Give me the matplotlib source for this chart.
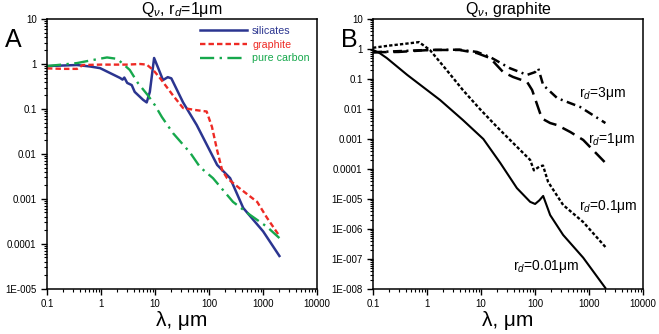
import numpy as np
import matplotlib
matplotlib.use("Agg")
import matplotlib.pyplot as plt
from matplotlib.ticker import FixedLocator, FixedFormatter, LogLocator, NullFormatter

plt.rcParams["font.family"] = ["Liberation Sans", "DejaVu Sans"]
plt.rcParams["mathtext.fontset"] = "custom"
plt.rcParams["mathtext.rm"] = "Liberation Sans"
plt.rcParams["mathtext.it"] = "Liberation Sans:italic"


# Panel A: Q_nu for r_d = 1 um

sil_x = [0.1, 0.36, 0.63, 0.96, 1.47, 2.25, 2.5, 2.7, 3.05, 3.7, 4.2, 6.0, 7.0, 8.0,
         9.6, 11.4, 14, 17.2, 20, 33, 59, 141, 245, 428, 1000, 2000]
sil_y = [0.9, 0.95, 0.88, 0.81, 0.63, 0.49, 0.45, 0.5, 0.38, 0.34, 0.24, 0.16, 0.14, 0.24,
         1.36, 0.82, 0.44, 0.51, 0.48, 0.14, 0.044, 0.0057, 0.0029, 0.00063, 0.00019, 0.000054]

gra_x = [0.1, 0.2, 0.36, 0.46, 1, 3, 5.3, 7.0, 9.2, 12.3, 21.5, 33, 59, 90, 113, 141,
         174, 215, 372, 776, 1180, 2000]
gra_y = [0.8, 0.78, 0.78, 0.95, 0.97, 0.97, 1.0, 0.97, 0.74, 0.49, 0.2, 0.105, 0.094, 0.088,
         0.04, 0.012, 0.0044, 0.0029, 0.0017, 0.00086, 0.00038, 0.00015]

car_x = [0.1, 0.36, 0.71, 1.29, 2.0, 3.4, 4.8, 7.4, 10, 13.4, 21.5, 44.8, 68, 118,
         277, 575, 1180, 2000]
car_y = [0.9, 1.05, 1.23, 1.4, 1.3, 0.74, 0.38, 0.2, 0.12, 0.066, 0.029, 0.0106, 0.0051,
         0.0029, 0.00086, 0.00044, 0.00024, 0.000135]

# Panel B: Q_nu for graphite, several grain radii

r001_x = [0.1, 0.13, 0.18, 0.43, 1.74, 4.6, 11, 22.6, 46, 81, 100, 120, 141, 190, 330, 776, 2000]
r001_y = [0.93, 0.75, 0.5, 0.137, 0.02, 0.0043, 0.001, 1.6e-4, 2.3e-5, 8e-6, 6.8e-6, 9e-6,
          1.26e-5, 2.9e-6, 6.3e-7, 1.1e-7, 1.07e-8]

r01_x = [0.1, 0.2, 0.4, 0.71, 1.13, 2.3, 4.6, 9.5, 19.8, 39, 81, 95, 120, 140, 174, 330, 776, 2000]
r01_y = [1.1, 1.3, 1.5, 1.7, 0.93, 0.2, 0.043, 0.01, 0.0025, 7.4e-4, 2e-4, 9e-5, 1.2e-4,
         1.3e-4, 3.7e-5, 6.3e-6, 1.7e-6, 2.5e-7]

r1_x = [0.1, 0.3, 1.13, 4, 8.4, 14.7, 25.6, 39, 71, 88, 123, 140, 190, 257, 450, 776, 2000]
r1_y = [0.78, 0.8, 0.93, 0.93, 0.73, 0.5, 0.17, 0.117, 0.08, 0.043, 0.0074, 0.0046, 0.0034,
        0.0029, 0.0017, 9.3e-4, 1.6e-4]

r3_x = [0.1, 0.3, 1, 4, 8.4, 14.7, 34, 71, 100, 114, 141, 257, 680, 2000]
r3_y = [0.78, 0.85, 0.93, 0.95, 0.8, 0.54, 0.23, 0.137, 0.17, 0.23, 0.063, 0.023, 0.0117, 0.0034]

x_ticks = [0.1, 1, 10, 100, 1000, 10000]
x_labels = ["0.1", "1", "10", "100", "1000", "10000"]

a_yticks = [1e-5, 1e-4, 1e-3, 1e-2, 1e-1, 1, 10]
a_ylabels = ["1E-005", "0.0001", "0.001", "0.01", "0.1", "1", "10"]

b_yticks = [1e-8, 1e-7, 1e-6, 1e-5, 1e-4, 1e-3, 1e-2, 1e-1, 1, 10]
b_ylabels = ["1E-008", "1E-007", "1E-006", "1E-005", "0.0001", "0.001", "0.01", "0.1", "1", "10"]


fig = plt.figure(figsize=(6.59, 3.34), dpi=100)
ax_a = fig.add_axes([0.0713, 0.135, 0.410, 0.808])
ax_b = fig.add_axes([0.566, 0.135, 0.410, 0.808])


def style_axes(ax, yticks, ylabels, ymin):
    ax.set_xscale("log")
    ax.set_yscale("log")
    ax.set_xlim(0.1, 10000)
    ax.set_ylim(ymin, 10)
    ax.xaxis.set_major_locator(FixedLocator(x_ticks))
    ax.xaxis.set_major_formatter(FixedFormatter(x_labels))
    ax.yaxis.set_major_locator(FixedLocator(yticks))
    ax.yaxis.set_major_formatter(FixedFormatter(ylabels))
    ax.xaxis.set_minor_locator(LogLocator(base=10, subs=np.arange(2, 10), numticks=20))
    ax.yaxis.set_minor_locator(LogLocator(base=10, subs=np.arange(2, 10), numticks=20))
    ax.xaxis.set_minor_formatter(NullFormatter())
    ax.yaxis.set_minor_formatter(NullFormatter())
    ax.tick_params(which="major", direction="out", length=4.5, width=1.0,
                   labelsize=7, pad=3, top=False, right=False)
    ax.tick_params(which="minor", direction="out", length=2.5, width=0.8,
                   top=False, right=False)
    for sp in ax.spines.values():
        sp.set_linewidth(1.1)
    ax.set_xlabel("λ, μm", fontsize=15, labelpad=1)


# Panel A

ax_a.plot(sil_x, sil_y, color="#2b3590", lw=1.8, label="silicates")
ax_a.plot(gra_x, gra_y, color="#ee2a24", lw=1.7, dashes=(2.3, 1.3), label="graphite")
ax_a.plot(car_x, car_y, color="#16a84c", lw=1.7, dashes=(6, 2.3, 1, 2.3), label="pure carbon")
style_axes(ax_a, a_yticks, a_ylabels, 1e-5)
ax_a.set_title("Q$_\\nu$, r$_d$=1μm", fontsize=11.5, pad=2)

leg = ax_a.legend(loc="upper left", bbox_to_anchor=(0.567, 0.975), frameon=False,
                  fontsize=7.7, handlelength=4.4, handletextpad=0.45,
                  borderpad=0, borderaxespad=0, labelspacing=0.35)
for txt, line in zip(leg.get_texts(), leg.get_lines()):
    txt.set_color(line.get_color())

# Panel B

ax_b.plot(r001_x, r001_y, color="black", lw=1.5)
ax_b.plot(r01_x, r01_y, color="black", lw=1.7, dashes=(1.4, 0.9))
ax_b.plot(r1_x, r1_y, color="black", lw=1.8, dashes=(5.5, 2.7))
ax_b.plot(r3_x, r3_y, color="black", lw=1.8, dashes=(3.6, 1.8, 0.8, 1.8))
style_axes(ax_b, b_yticks, b_ylabels, 1e-8)
ax_b.set_title("Q$_\\nu$, graphite", fontsize=11.5, pad=2)

ax_b.text(650, 0.034, "r$_d$=3μm", fontsize=10, va="center", ha="left")
ax_b.text(960, 0.00093, "r$_d$=1μm", fontsize=10, va="center", ha="left")
ax_b.text(650, 5.4e-6, "r$_d$=0.1μm", fontsize=10, va="center", ha="left")
ax_b.text(39, 5.8e-8, "r$_d$=0.01μm", fontsize=10, va="center", ha="left")

fig.text(13 / 659, 1 - 40 / 334, "A", fontsize=18, ha="center", va="center")
fig.text(349 / 659, 1 - 40 / 334, "B", fontsize=18, ha="center", va="center")

fig.savefig("out.png", dpi=100)
